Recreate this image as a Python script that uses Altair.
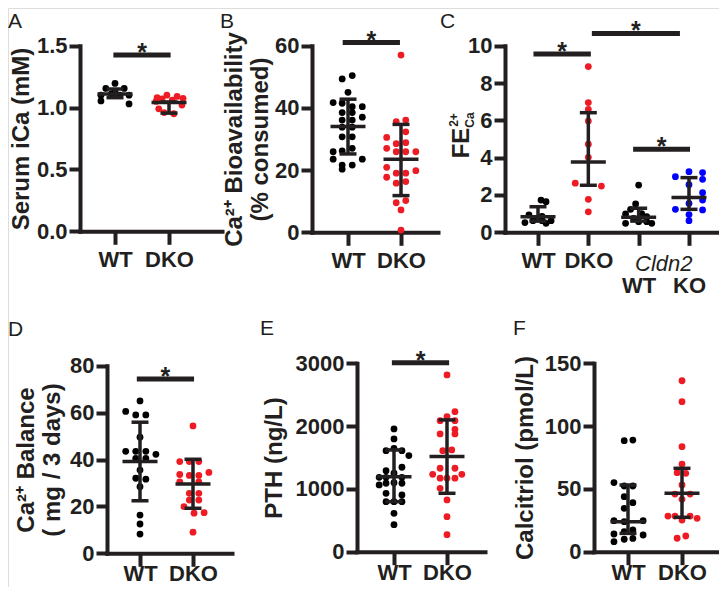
import altair as alt
import pandas as pd

FONT = "Liberation Sans"
INK = "#231f20"
COL = {"k": "#000000", "r": "#ed1c24", "b": "#0000ff"}

# ---------------- data ----------------
# A: serum ionized calcium (mM)
A_WT = [1.195, 1.155, 1.155, 1.13, 1.10, 1.10, 1.11, 1.10, 1.054, 1.029]
A_WT_J = [0, -0.17, 0.17, 0, -0.26, 0.26, -0.07, 0.09, -0.26, 0.26]
A_DKO = [1.10, 1.09, 1.08, 1.075, 1.07, 1.06, 1.05, 1.02, 0.99, 0.96, 0.95]
A_DKO_J = [-0.04, 0.15, -0.22, 0.26, -0.13, 0.06, -0.24, 0.24, -0.19, -0.09, 0.09]
A_MEAN = [1.11, 1.04]
A_LO = [1.08, 0.955]
A_HI = [1.15, 1.045]
A_SIG_X1 = [0.97]
A_SIG_X2 = [2.03]
A_SIG_Y = [1.425]

# B: Ca2+ bioavailability (% consumed)
B_WT = [50.4, 49.3, 45.0, 41.7, 41.5, 40.4, 40.4, 38.5, 38.5, 36.1, 36.1, 37.0,
        33.8, 33.8, 30.7, 30.7, 27.0, 26.2, 25.9, 23.5, 23.5, 21.6, 21.6, 20.3]
B_WT_J = [0.08, -0.11, 0, -0.28, -0.11, 0.08, 0.27, -0.11, 0.08, -0.11, 0.08, 0.27,
          -0.11, 0.08, -0.11, 0.08, 0.08, -0.11, -0.28, -0.28, 0.27, -0.11, 0.08, -0.11]
B_DKO = [57.0, 36.1, 35.6, 32.3, 30.5, 28.8, 28.5, 27.0, 25.9, 25.9, 25.9, 20.9,
         19.8, 19.0, 19.0, 17.7, 16.3, 15.8, 10.2, 9.5, 7.2, 0.7]
B_DKO_J = [0, 0.09, -0.09, 0.09, -0.27, 0.09, -0.09, -0.27, -0.09, 0.09, 0.28, -0.27,
           0.28, -0.09, 0.09, -0.27, 0.09, -0.09, 0.09, -0.09, 0, 0]
B_MEAN = [34.0, 23.5]
B_LO = [25.2, 11.8]
B_HI = [42.8, 34.7]
B_SIG_X1 = [0.90]
B_SIG_X2 = [1.98]
B_SIG_Y = [61.0]

# C: fractional excretion of Ca2+
C_WT = [1.73, 1.64, 0.93, 0.85, 0.75, 0.62, 0.62, 0.62, 0.52, 0.48]
C_WT_J = [0.06, 0.16, -0.18, 0.08, -0.06, -0.1, 0.08, 0.26, -0.26, 0.16]
C_DKO = [8.88, 6.95, 6.59, 5.96, 4.72, 4.02, 2.63, 2.48, 1.77, 1.10]
C_DKO_J = [0, 0, 0, 0, 0, 0, -0.26, 0.26, 0, 0]
C_CWT = [2.53, 1.52, 1.23, 0.98, 0.84, 1.0, 0.57, 0.57, 0.48, 0.48, 0.75]
C_CWT_J = [0, -0.06, -0.16, -0.26, 0.16, 0.06, 0, 0.16, -0.26, 0.26, -0.1]
C_CKO = [3.25, 3.2, 2.98, 2.84, 2.55, 2.12, 1.73, 1.55, 1.23, 1.2, 0.95, 0.62]
C_CKO_J = [0, 0.27, -0.27, 0.27, 0, 0.27, 0.27, 0, -0.27, 0.27, 0, 0]
C_MEAN = [0.84, 3.77, 0.80, 1.86]
C_LO = [0.6, 2.52, 0.6, 1.23]
C_HI = [1.37, 6.41, 1.29, 2.93]
C_SIG_X1 = [0.91, 2.07, 2.89]
C_SIG_X2 = [2.05, 3.82, 4.02]
C_SIG_Y = [9.55, 10.66, 4.45]

# D: Ca2+ balance (mg / 3 days)
D_WT = [65, 60.5, 59, 59, 49.5, 43.5, 43.5, 43.5, 42.2, 40.5, 40.5, 35.5, 32, 31.6,
        28.4, 16.3, 12.5, 8.2]
D_WT_J = [0, -0.27, -0.08, 0.11, 0, -0.27, -0.08, 0.11, 0.3, -0.08, 0.11, 0, -0.08,
          0.11, 0, 0, 0, 0]
D_DKO = [54.3, 39.1, 39.1, 39.1, 34.5, 33.6, 33.2, 33.2, 30.5, 30.5, 25.6, 25.6,
         22.7, 22.7, 19.9, 17.3, 17.1, 9.0]
D_DKO_J = [0, -0.25, -0.07, 0.11, 0.3, -0.25, -0.07, 0.11, -0.25, 0.11, -0.07, 0.11,
           -0.07, 0.11, -0.17, 0.21, 0.02, 0]
D_MEAN = [39.1, 29.6]
D_LO = [22.4, 19.2]
D_HI = [55.9, 40.1]
D_SIG_X1 = [0.94]
D_SIG_X2 = [2.02]
D_SIG_Y = [74.3]

# E: PTH (ng/L)
E_WT = [1955, 1796, 1609, 1647, 1609, 1530, 1345, 1291, 1249, 1185, 1185, 1185,
        1063, 1090, 1099, 1090, 930, 903, 797, 797, 797, 612, 430]
E_WT_J = [0, 0, -0.15, 0, 0.15, 0.28, 0.15, -0.15, 0, -0.28, -0.15, 0.15,
          -0.28, -0.15, 0, 0.15, -0.15, 0.15, -0.15, 0, 0.15, 0, 0]
E_DKO = [2815, 2230, 2150, 2087, 2087, 1949, 1875, 1875, 1609, 1620, 1329, 1329,
         1233, 1233, 1170, 1170, 1170, 1010, 824, 558, 271]
E_DKO_J = [0, 0.15, 0, -0.13, 0.15, 0.15, -0.13, 0.15, -0.08, 0.09, 0.15, -0.13,
           -0.27, 0.28, -0.13, 0, 0.15, -0.13, 0, 0, 0]
E_MEAN = [1195, 1514]
E_LO = [797, 930]
E_HI = [1620, 2098]
E_SIG_X1 = [0.96]
E_SIG_X2 = [2.04]
E_SIG_Y = [3010]

# F: calcitriol (pmol/L)
F_WT = [88.4, 88.9, 55, 52.3, 52.3, 43.8, 39, 34.5, 24.7, 24.7, 23.9, 17.3, 15.9,
        14.1, 13.3, 8.0, 9.9, 10.6]
F_WT_J = [-0.07, 0.09, -0.26, -0.07, 0.09, -0.07, 0.09, -0.07, -0.26, 0.28, -0.07,
          0.09, -0.07, -0.26, 0.28, -0.26, -0.07, 0.09]
F_DKO = [136.1, 119.4, 83.6, 69.8, 62.9, 62.4, 53.1, 45.9, 45.9, 41.7, 28.4, 28.4,
         25.2, 28.4, 26.6, 10.7, 12.5]
F_DKO_J = [0, 0, 0, 0, -0.09, 0.07, 0, -0.13, 0.15, 0, -0.26, -0.13, 0, 0.15, 0.28,
           -0.09, 0.07]
F_MEAN = [23.9, 46.5]
F_LO = [14.6, 27.4]
F_HI = [53.1, 66.4]

TWO_LABELS = "datum.value == 1 ? 'WT' : 'DKO'"
FOUR_LABELS = ("datum.value == 1 ? 'WT' : datum.value == 2 ? 'DKO' : "
               "datum.value == 3 ? 'WT' : 'KO'")

VW, VH = 711, 579   # whole drawing area (page minus 8px margins)


def text_layer(txt, x, y, **kw):
    return alt.Chart(pd.DataFrame({"t": [txt]})).mark_text(
        font=FONT, color=INK, **kw
    ).encode(x=alt.value(x), y=alt.value(y), text="t:N")


def panel(geom, groups, means, los, his, sig, ymax, yticks, yfmt, ytitle, tpad,
          ngroups, labexpr, lab_pad=5, extra_x=(), extra=()):
    # geom: plot left, plot width, first-tick x, px per group, plot top, plot bottom
    left, width, t1, step, top, bottom = geom
    d0 = 1 - (t1 - left) / step
    xs = alt.Scale(domain=[d0, d0 + width / step], range=[left, left + width],
                   nice=False, zero=False)
    ys = alt.Scale(domain=[0, ymax], range=[bottom, top], nice=False, zero=False)
    lp = lab_pad
    if ngroups == 4:
        lp = {"condition": {"test": "datum.value >= 3", "value": lab_pad + 25},
              "value": lab_pad}
    xaxis = alt.Axis(values=list(range(1, ngroups + 1)), labelExpr=labexpr, title=None,
                     orient="bottom", offset=-(VH - bottom),
                     grid=False, domainColor=INK, domainWidth=4, domainCap="square",
                     tickColor=INK, tickWidth=4, tickSize=13,
                     labelFont=FONT, labelFontSize=22, labelFontWeight="bold",
                     labelColor=INK, labelPadding=lp, labelAngle=0,
                     labelFlush=False, labelOverlap=False, labelBaseline="top")
    yaxis = alt.Axis(values=yticks, format=yfmt, title=ytitle, grid=False,
                     orient="left", offset=-left,
                     domainColor=INK, domainWidth=4, domainCap="square",
                     tickColor=INK, tickWidth=4, tickSize=11,
                     labelFont=FONT, labelFontSize=22, labelFontWeight="bold",
                     labelColor=INK, labelPadding=2, labelFlush=False, labelOverlap=False,
                     titleFont=FONT, titleFontSize=24, titleFontWeight="bold",
                     titleColor=INK, titlePadding=tpad, titleLineHeight=26)

    def X(f):
        return alt.X(f, type="quantitative", scale=xs, axis=xaxis)

    def Y(f):
        return alt.Y(f, type="quantitative", scale=ys, axis=yaxis)

    rows = []
    for g, (vals, jit, c) in enumerate(groups, start=1):
        for v, j in zip(vals, jit):
            rows.append({"x": g + j, "v": v, "c": COL[c]})
    pts = pd.DataFrame(rows)
    gs = list(range(1, len(means) + 1))
    st = pd.DataFrame({"g": gs, "mean": means, "lo": los, "hi": his})
    caps = pd.DataFrame({"g": gs + gs, "y": los + his})

    layers = [
        alt.Chart(pts).mark_circle(size=46, opacity=1).encode(
            x=X("x"), y=Y("v"), color=alt.Color("c:N", scale=None)),
        alt.Chart(st).mark_rule(strokeWidth=3.5, color=INK).encode(
            x=X("g"), y=Y("lo"), y2="hi"),
        alt.Chart(st).mark_tick(orient="horizontal", size=35, thickness=3.5,
                                color=INK, opacity=1).encode(x=X("g"), y=Y("mean")),
        alt.Chart(caps).mark_tick(orient="horizontal", size=17, thickness=3.5,
                                  color=INK, opacity=1).encode(x=X("g"), y=Y("y")),
    ]
    if sig is not None:
        x1, x2, yy = sig
        sd = pd.DataFrame({"x1": x1, "x2": x2, "y": yy,
                           "xm": [(a + b) / 2 for a, b in zip(x1, x2)]})
        layers.append(alt.Chart(sd).mark_rule(strokeWidth=5, color=INK).encode(
            x=X("x1"), x2="x2", y=Y("y")))
        layers.append(alt.Chart(sd).mark_text(
            text="*", font=FONT, fontSize=25, fontWeight="bold", color=INK,
            baseline="alphabetic", dy=6).encode(x=X("xm"), y=Y("y")))
    for (txt, gx, dy, kw) in extra_x:
        layers.append(alt.Chart(pd.DataFrame({"t": [txt], "g": [gx]})).mark_text(
            font=FONT, color=INK, baseline="alphabetic", **kw
        ).encode(x=X("g"), y=alt.value(bottom + dy), text="t:N"))
    layers.extend(extra)
    return alt.layer(*layers)


pA = panel((72, 142, 107, 54, 37.7, 223.3),
           [(A_WT, A_WT_J, "k"), (A_DKO, A_DKO_J, "r")],
           A_MEAN, A_LO, A_HI, (A_SIG_X1, A_SIG_X2, A_SIG_Y),
           1.5, [0, 0.5, 1.0, 1.5], ".1f", "Serum iCa (mM)", 3,
           2, TWO_LABELS)

pB = panel((304, 126, 340, 53, 37.7, 224.3),
           [(B_WT, B_WT_J, "k"), (B_DKO, B_DKO_J, "r")],
           B_MEAN, B_LO, B_HI, (B_SIG_X1, B_SIG_X2, B_SIG_Y),
           60, [0, 20, 40, 60], "d", ["Ca\u00b2\u207a Bioavailability", "(% consumed)"], 2,
           2, TWO_LABELS)

pC = panel((497, 214, 530, 50.33, 37.7, 224.3),
           [(C_WT, C_WT_J, "k"), (C_DKO, C_DKO_J, "r"), (C_CWT, C_CWT_J, "k"),
            (C_CKO, C_CKO_J, "b")],
           C_MEAN, C_LO, C_HI, (C_SIG_X1, C_SIG_X2, C_SIG_Y),
           10, [0, 2, 4, 6, 8, 10], "d", None, 4,
           4, FOUR_LABELS,
           extra_x=[("Cldn2", 3.5, 39, {"fontSize": 22, "fontStyle": "italic"})],
           extra=[
               text_layer("FE", 461, 135, fontSize=24, fontWeight="bold", angle=270,
                          align="center", baseline="alphabetic"),
               text_layer("Ca", 466, 112, fontSize=12, fontWeight="bold", angle=270,
                          align="center", baseline="alphabetic"),
               text_layer("2+", 450, 112, fontSize=12, fontWeight="bold", angle=270,
                          align="center", baseline="alphabetic"),
           ])

pD = panel((99, 125, 132, 53, 357.7, 545.3),
           [(D_WT, D_WT_J, "k"), (D_DKO, D_DKO_J, "r")],
           D_MEAN, D_LO, D_HI, (D_SIG_X1, D_SIG_X2, D_SIG_Y),
           80, [0, 20, 40, 60, 80], "d", ["Ca\u00b2\u207a Balance", "( mg / 3 days)"], 5,
           2, TWO_LABELS, lab_pad=-3)

pE = panel((349, 128, 386, 53, 355.3, 543.7),
           [(E_WT, E_WT_J, "k"), (E_DKO, E_DKO_J, "r")],
           E_MEAN, E_LO, E_HI, (E_SIG_X1, E_SIG_X2, E_SIG_Y),
           3000, [0, 1000, 2000, 3000], "d", "PTH (ng/L)", 9,
           2, TWO_LABELS, lab_pad=-2)

pF = panel((586, 124, 620, 54, 355.3, 543.7),
           [(F_WT, F_WT_J, "k"), (F_DKO, F_DKO_J, "r")],
           F_MEAN, F_LO, F_HI, None,
           150, [0, 50, 100, 150], "d", "Calcitriol (pmol/L)", 7,
           2, TWO_LABELS, lab_pad=-2)

# panel letters (annotation text)
LETTERS = ["A", "B", "C", "D", "E", "F"]
letter_layers = [
    text_layer(t, x, y, fontSize=21, align="left", baseline="alphabetic")
    for t, x, y in zip(LETTERS, [0, 212, 432, 0, 252, 505], [20, 20, 20, 328, 327, 327])
]

chart = alt.layer(pA, pB, pC, pD, pE, pF, *letter_layers).resolve_scale(
    x="independent", y="independent"
).resolve_axis(
    x="independent", y="independent"
).properties(
    width=VW, height=VH, padding=0,
    autosize=alt.AutoSizeParams(type="none"),
).configure_view(stroke=None).configure(background="white")

chart.save("out.html", embed_options={"renderer": "svg", "actions": False})
